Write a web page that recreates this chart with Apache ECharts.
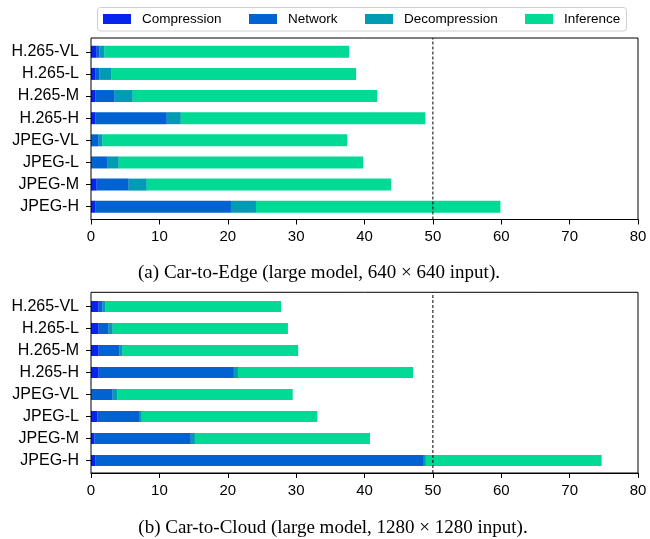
<!DOCTYPE html>
<html>
<head>
<meta charset="utf-8">
<script src="https://cdn.jsdelivr.net/npm/echarts@6/dist/echarts.min.js"></script>
<style>
  html, body { margin: 0; padding: 0; background: #fff; }
  #chart { width: 650px; height: 539px; }
</style>
</head>
<body>
<div id="chart"></div>
<script>
// Latency breakdown per configuration (ms), stacked per stage
const categories = ['H.265-VL', 'H.265-L', 'H.265-M', 'H.265-H', 'JPEG-VL', 'JPEG-L', 'JPEG-M', 'JPEG-H'];
const stages = ['Compression', 'Network', 'Decompression', 'Inference'];
const stageColors = ['#0524ee', '#0063d1', '#009cb3', '#00da95'];

// (a) Car-to-Edge
const edgeCompression   = [0.84, 0.69, 0.69, 0.69, 0.10, 0.10, 0.84, 0.69];
const edgeNetwork       = [0.43, 0.58, 2.78, 10.40, 1.03, 2.35, 4.68, 19.78];
const edgeDecompression = [0.73, 1.76, 2.64, 2.05, 0.58, 1.61, 2.64, 3.66];
const edgeInference     = [35.76, 35.75, 35.75, 35.76, 35.76, 35.74, 35.74, 35.75];

// (b) Car-to-Cloud
const cloudCompression   = [1.13, 1.13, 1.13, 1.13, 0.10, 0.98, 0.54, 0.69];
const cloudNetwork       = [0.58, 1.46, 3.07, 19.77, 3.08, 6.16, 14.06, 47.99];
const cloudDecompression = [0.44, 0.59, 0.44, 0.60, 0.72, 0.29, 0.60, 0.30];
const cloudInference     = [25.65, 25.62, 25.66, 25.60, 25.60, 25.67, 25.60, 25.70];

// latency budget drawn as a dashed vertical line
const deadline = 50;
const xTicks = { min: 0, max: 80, interval: 10 };

const captionA = '(a) Car-to-Edge (large model, 640 \u00d7 640 input).';
const captionB = '(b) Car-to-Cloud (large model, 1280 \u00d7 1280 input).';

const edgeData = [edgeCompression, edgeNetwork, edgeDecompression, edgeInference];
const cloudData = [cloudCompression, cloudNetwork, cloudDecompression, cloudInference];

const sansFont = 'Liberation Sans, Arial, Helvetica, sans-serif';
const serifFont = 'Liberation Serif, Times New Roman, serif';

// Each panel uses two overlapping grids: an outer one carrying the frame,
// the x axis and the budget line, and an inner one holding the bar bands.
const panels = [
  { frameTop: 38, frameHeight: 181.5, barTop: 40.7, barHeight: 177.1, barWidth: 12, data: edgeData, stack: 'edge' },
  { frameTop: 292.3, frameHeight: 180.7, barTop: 295.5, barHeight: 176, barWidth: 11, data: cloudData, stack: 'cloud' }
];

const grids = [], xAxes = [], yAxes = [], series = [];

panels.forEach((p, k) => {
  // outer frame grid
  grids.push({ left: 91, top: p.frameTop, width: 547, height: p.frameHeight,
    show: true, borderColor: '#000', borderWidth: 1, backgroundColor: 'transparent', z: 3 });
  const fi = grids.length - 1;
  xAxes.push({
    type: 'value', gridIndex: fi,
    min: xTicks.min, max: xTicks.max, interval: xTicks.interval,
    axisLine: { show: true, lineStyle: { color: '#000', width: 1 } },
    axisTick: { show: true, inside: false, length: 5, lineStyle: { color: '#000' } },
    axisLabel: { color: '#000', fontSize: 15, fontFamily: sansFont, margin: 10 },
    splitLine: { show: false }
  });
  yAxes.push({ type: 'value', gridIndex: fi, min: 0, max: 1, show: false });
  series.push({
    type: 'line', xAxisIndex: fi, yAxisIndex: fi, z: 5,
    data: [[deadline, 0], [deadline, 1]],
    symbol: 'none', silent: true, animation: false,
    lineStyle: { color: '#000', width: 1, type: [3, 2] }
  });

  // inner bar grid
  grids.push({ left: 91, top: p.barTop, width: 547, height: p.barHeight, show: false });
  const bi = grids.length - 1;
  xAxes.push({ type: 'value', gridIndex: bi, min: xTicks.min, max: xTicks.max, show: false });
  yAxes.push({
    type: 'category', gridIndex: bi, data: categories, inverse: true,
    axisLine: { show: false },
    axisTick: { show: true, inside: false, length: 5, alignWithLabel: true, lineStyle: { color: '#000' } },
    axisLabel: { color: '#000', fontSize: 16, fontFamily: sansFont, margin: 12 }
  });
  stages.forEach((name, i) => {
    series.push({
      name: name, type: 'bar', stack: p.stack,
      xAxisIndex: bi, yAxisIndex: bi, z: 2,
      data: p.data[i], barWidth: p.barWidth,
      itemStyle: { color: stageColors[i] },
      emphasis: { disabled: true },
      animation: false
    });
  });
});

const legendLeft = [103, 249, 365, 525];
const legends = stages.map((name, i) => ({
  data: [name], left: legendLeft[i], top: 11, padding: 0,
  icon: 'rect', itemWidth: 28, itemHeight: 10,
  selectedMode: false, z: 10,
  textStyle: { color: '#000', fontSize: 13.5, fontFamily: sansFont, lineHeight: 16, padding: [0, 0, 0, 6] }
}));

const chart = echarts.init(document.getElementById('chart'), null, { renderer: 'canvas' });
chart.setOption({
  animation: false,
  backgroundColor: '#fff',
  legend: legends,
  grid: grids,
  xAxis: xAxes,
  yAxis: yAxes,
  series: series,
  graphic: [
    { type: 'rect', z: 1, shape: { x: 97.5, y: 7.5, width: 529, height: 23.5, r: 3 },
      style: { fill: '#fff', stroke: '#cfcfcf', lineWidth: 1 } },
    { type: 'text', z: 1, x: 319, y: 273.5,
      style: { text: captionA, font: '19px ' + serifFont, fill: '#000', textAlign: 'center', textVerticalAlign: 'middle' } },
    { type: 'text', z: 1, x: 333, y: 528.5,
      style: { text: captionB, font: '19px ' + serifFont, fill: '#000', textAlign: 'center', textVerticalAlign: 'middle' } }
  ]
});
</script>
</body>
</html>
